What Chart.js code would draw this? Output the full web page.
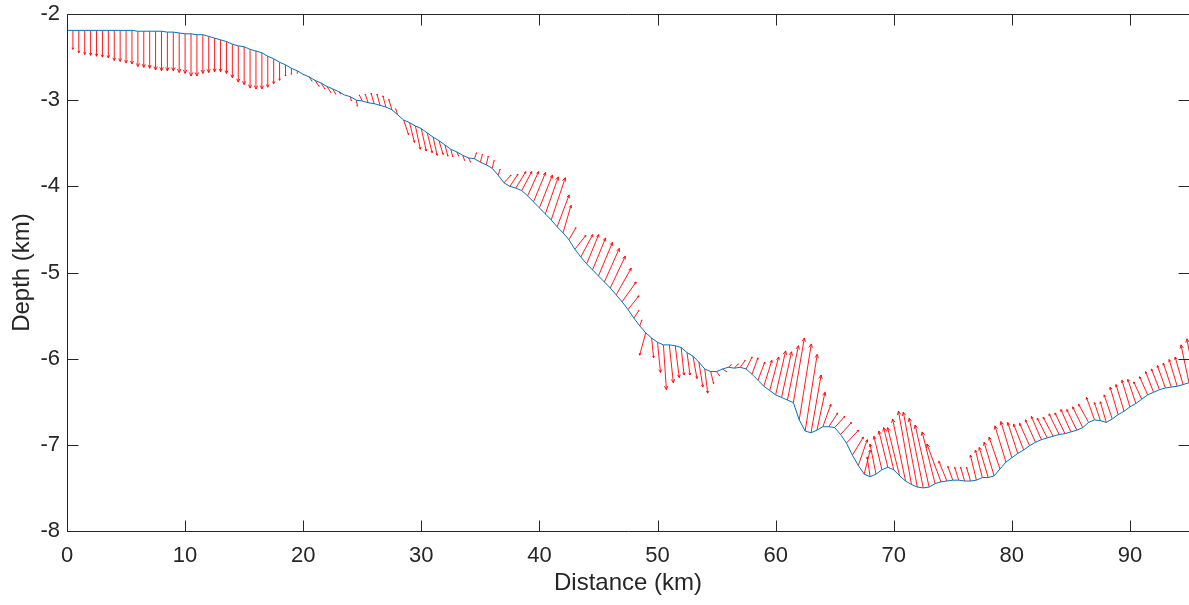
<!DOCTYPE html>
<html>
<head>
<meta charset="utf-8">
<title>Depth profile</title>
<script src="https://cdn.jsdelivr.net/npm/chart.js@4.4.0/dist/chart.umd.min.js"></script>
<style>
  html, body { margin: 0; padding: 0; background: #fff; }
  #profileChart { display: block; }
</style>
</head>
<body>
<canvas id="profileChart" width="1189" height="605"></canvas>
<script>
// sample positions along the profile (km)
const distance = [
  0, 0.5, 1, 1.5, 2, 2.5, 3, 3.5, 4, 4.5,
  5, 5.5, 6, 6.5, 7, 7.5, 8, 8.5, 9, 9.5,
  10, 10.5, 11, 11.5, 12, 12.5, 13, 13.5, 14, 14.5,
  15, 15.5, 16, 16.5, 17, 17.5, 18, 18.5, 19, 19.5,
  20, 20.5, 21, 21.5, 22, 22.5, 23, 23.5, 24, 24.5,
  25, 25.5, 26, 26.5, 27, 27.5, 28, 28.5, 29, 29.5,
  30, 30.5, 31, 31.5, 32, 32.5, 33, 33.5, 34, 34.5,
  35, 35.5, 36, 36.5, 37, 37.5, 38, 38.5, 39, 39.5,
  40, 40.5, 41, 41.5, 42, 42.5, 43, 43.5, 44, 44.5,
  45, 45.5, 46, 46.5, 47, 47.5, 48, 48.5, 49, 49.5,
  50, 50.5, 51, 51.5, 52, 52.5, 53, 53.5, 54, 54.5,
  55, 55.5, 56, 56.5, 57, 57.5, 58, 58.5, 59, 59.5,
  60, 60.5, 61, 61.5, 62, 62.5, 63, 63.5, 64, 64.5,
  65, 65.5, 66, 66.5, 67, 67.5, 68, 68.5, 69, 69.5,
  70, 70.5, 71, 71.5, 72, 72.5, 73, 73.5, 74, 74.5,
  75, 75.5, 76, 76.5, 77, 77.5, 78, 78.5, 79, 79.5,
  80, 80.5, 81, 81.5, 82, 82.5, 83, 83.5, 84, 84.5,
  85, 85.5, 86, 86.5, 87, 87.5, 88, 88.5, 89, 89.5,
  90, 90.5, 91, 91.5, 92, 92.5, 93, 93.5, 94, 94.5,
  95, 95.5
];

// seafloor depth (km)
const depth = [
  -2.19, -2.19, -2.19, -2.19, -2.19, -2.19, -2.19, -2.19, -2.19, -2.19,
  -2.19, -2.19, -2.20, -2.20, -2.20, -2.20, -2.20, -2.21, -2.21, -2.22,
  -2.23, -2.23, -2.24, -2.24, -2.26, -2.28, -2.30, -2.32, -2.35, -2.37,
  -2.38, -2.41, -2.43, -2.45, -2.49, -2.52, -2.56, -2.59, -2.63, -2.66,
  -2.70, -2.73, -2.77, -2.80, -2.84, -2.87, -2.90, -2.94, -2.96, -3.00,
  -3.01, -3.03, -3.04, -3.06, -3.08, -3.11, -3.17, -3.23, -3.26, -3.30,
  -3.33, -3.38, -3.43, -3.47, -3.52, -3.57, -3.60, -3.64, -3.67, -3.68,
  -3.72, -3.75, -3.79, -3.87, -3.96, -4.00, -4.02, -4.05, -4.11, -4.18,
  -4.25, -4.32, -4.39, -4.47, -4.54, -4.62, -4.73, -4.82, -4.90, -4.97,
  -5.04, -5.11, -5.18, -5.26, -5.34, -5.43, -5.53, -5.62, -5.70, -5.76,
  -5.81, -5.84, -5.84, -5.85, -5.87, -5.93, -5.97, -6.04, -6.12, -6.15,
  -6.15, -6.12, -6.10, -6.11, -6.10, -6.12, -6.18, -6.25, -6.32, -6.37,
  -6.42, -6.45, -6.48, -6.51, -6.71, -6.84, -6.86, -6.83, -6.79, -6.79,
  -6.80, -6.88, -6.98, -7.12, -7.24, -7.34, -7.37, -7.34, -7.29, -7.26,
  -7.29, -7.36, -7.42, -7.46, -7.49, -7.50, -7.49, -7.45, -7.43, -7.42,
  -7.41, -7.41, -7.42, -7.42, -7.41, -7.38, -7.38, -7.36, -7.28, -7.20,
  -7.15, -7.10, -7.06, -7.01, -6.97, -6.94, -6.92, -6.90, -6.88, -6.87,
  -6.85, -6.83, -6.80, -6.74, -6.71, -6.72, -6.74, -6.70, -6.65, -6.61,
  -6.56, -6.52, -6.47, -6.42, -6.39, -6.36, -6.34, -6.33, -6.32, -6.30,
  -6.28, -6.26
];

// arrow components: horizontal (km) and vertical (km)
const arrowU = [
  0, 0, 0, 0, 0, 0, 0, 0, 0, 0,
  0, 0, 0, 0, 0, 0, 0, 0, 0, 0,
  0, 0, 0, 0, 0, 0, 0, 0, 0, 0,
  0, 0, 0, 0, 0, 0, 0, 0, 0, 0,
  0, 0.25, 0.34, 0.34, 0.34, 0.25, 0.17, 0, 0.08, 0.08,
  -0.25, -0.25, -0.25, -0.25, -0.25, -0.25, -0.17, 0.42, 0.42, 0.42,
  0.42, 0.42, 0.34, 0.34, 0.25, 0.17, 0.17, 0.17, 0.17, 0.17,
  0.17, 0.17, 0.17, 0.17, 0.59, 0.68, 0.85, 0.85, 0.93, 1.02,
  1.10, 1.10, 1.19, 1.02, 0.68, 0.59, 0.93, 1.02, 1.02, 1.10,
  1.19, 1.27, 1.27, 1.27, 1.19, 0.93, 0.42, 0.17, -0.51, 0.17,
  0.25, 0.25, 0.34, 0.34, 0.25, 0.25, 0.34, 0.34, 0.25, 0.25,
  0.25, 0.34, 0.25, 0.34, 0.42, 0.51, 0.51, 0.59, 0.68, 0.76,
  0.85, 0.85, 0.93, 0.93, 1.02, 1.02, 0.85, 0.68, 0.68, 0.76,
  0.85, 0.93, 1.02, 0.93, 0.76, 0.51, -0.25, -0.51, -0.68, -0.76,
  -0.85, -1.02, -1.10, -1.10, -1.19, -1.19, -1.19, -1.10, -1.19, -0.68,
  -0.42, -0.34, -0.34, -0.34, -0.51, -0.59, -0.76, -0.85, -0.93, -0.93,
  -0.93, -0.85, -0.85, -0.85, -0.85, -0.85, -0.85, -0.85, -0.85, -0.85,
  -0.85, -0.85, -0.85, -0.85, -0.68, -0.51, -0.51, -0.68, -0.68, -0.68,
  -0.68, -0.68, -0.68, -0.68, -0.68, -0.68, -0.68, -0.68, -0.68, -0.68,
  -0.68, -0.68
];
const arrowV = [
  -0.17, -0.22, -0.26, -0.28, -0.29, -0.30, -0.31, -0.32, -0.35, -0.36,
  -0.38, -0.39, -0.41, -0.42, -0.43, -0.45, -0.46, -0.45, -0.45, -0.46,
  -0.46, -0.49, -0.48, -0.45, -0.42, -0.39, -0.37, -0.37, -0.39, -0.42,
  -0.44, -0.45, -0.44, -0.42, -0.36, -0.29, -0.21, -0.13, -0.07, -0.03,
  -0.01, -0.05, -0.07, -0.07, -0.07, -0.06, -0.03, 0, -0.05, -0.07,
  0.07, 0.10, 0.12, 0.13, 0.13, 0.12, 0.07, -0.17, -0.23, -0.27,
  -0.26, -0.23, -0.21, -0.16, -0.13, -0.09, -0.05, -0.06, -0.05, 0.07,
  0.09, 0.10, 0.09, 0.07, 0.09, 0.14, 0.19, 0.22, 0.28, 0.34,
  0.38, 0.43, 0.49, 0.37, 0.32, 0.14, 0.16, 0.26, 0.34, 0.37,
  0.39, 0.39, 0.37, 0.31, 0.23, 0.16, 0.09, 0.07, -0.26, -0.23,
  -0.35, -0.52, -0.44, -0.37, -0.32, -0.26, -0.26, -0.29, -0.28, -0.14,
  -0.05, -0.03, 0.03, 0.05, 0.08, 0.14, 0.19, 0.21, 0.30, 0.39,
  0.51, 0.53, 0.63, 0.75, 0.88, 0.89, 0.67, 0.44, 0.26, 0.16,
  0.13, 0.14, 0.15, 0.21, 0.30, 0.28, 0.23, 0.35, 0.39, 0.42,
  0.49, 0.56, 0.72, 0.85, 0.87, 0.81, 0.72, 0.60, 0.44, 0.23,
  0.16, 0.15, 0.16, 0.16, 0.29, 0.32, 0.35, 0.39, 0.37, 0.42,
  0.42, 0.36, 0.30, 0.26, 0.26, 0.27, 0.23, 0.22, 0.24, 0.24,
  0.26, 0.24, 0.24, 0.21, 0.26, 0.21, 0.24, 0.28, 0.32, 0.31,
  0.31, 0.28, 0.20, 0.21, 0.24, 0.24, 0.26, 0.28, 0.31, 0.32,
  0.44, 0.49
];

const xTicks = [0, 10, 20, 30, 40, 50, 60, 70, 80, 90];
const yTicks = [-8, -7, -6, -5, -4, -3, -2];

const axisColor = '#262626';
const fontFamily = '"Liberation Sans", Arial, Helvetica, sans-serif';

// red quiver arrows, drawn under the profile line
const quiverPlugin = {
  id: 'quiver',
  beforeDatasetsDraw(chart) {
    const { ctx, chartArea: a, scales: { x, y } } = chart;
    ctx.save();
    ctx.beginPath();
    ctx.rect(a.left, a.top, a.right - a.left, a.bottom - a.top);
    ctx.clip();
    ctx.strokeStyle = '#ff0000';
    ctx.lineWidth = 0.9;
    ctx.beginPath();
    distance.forEach((d, i) => {
      if (arrowU[i] === 0 && arrowV[i] === 0) return;
      const x0 = x.getPixelForValue(d);
      const y0 = y.getPixelForValue(depth[i]);
      const x1 = x.getPixelForValue(d + arrowU[i]);
      const y1 = y.getPixelForValue(depth[i] + arrowV[i]);
      ctx.moveTo(x0, y0);
      ctx.lineTo(x1, y1);
      const ang = Math.atan2(y1 - y0, x1 - x0);
      const h = Math.min(4, Math.hypot(x1 - x0, y1 - y0) * 0.1);
      ctx.moveTo(x1 - h * Math.cos(ang - 0.45), y1 - h * Math.sin(ang - 0.45));
      ctx.lineTo(x1, y1);
      ctx.lineTo(x1 - h * Math.cos(ang + 0.45), y1 - h * Math.sin(ang + 0.45));
    });
    ctx.stroke();
    ctx.restore();
  }
};

// MATLAB-style box with inward ticks
const framePlugin = {
  id: 'frame',
  afterDraw(chart) {
    const { ctx, chartArea: a, scales: { x, y } } = chart;
    const L = a.left + 0.5, R = a.right + 0.5, T = a.top + 0.5, B = a.bottom + 0.5;
    ctx.save();
    ctx.strokeStyle = axisColor;
    ctx.lineWidth = 1;
    ctx.beginPath();
    ctx.rect(L, T, R - L, B - T);
    xTicks.forEach(v => {
      const px = Math.round(x.getPixelForValue(v)) + 0.5;
      ctx.moveTo(px, B); ctx.lineTo(px, B - 11);
      ctx.moveTo(px, T); ctx.lineTo(px, T + 11);
    });
    yTicks.forEach(v => {
      const py = Math.round(y.getPixelForValue(v)) + 0.5;
      ctx.moveTo(L, py); ctx.lineTo(L + 11, py);
      ctx.moveTo(R, py); ctx.lineTo(R - 11, py);
    });
    ctx.stroke();
    ctx.restore();
  }
};

new Chart(document.getElementById('profileChart'), {
  type: 'line',
  data: {
    datasets: [{
      label: 'Seafloor',
      data: distance.map((d, i) => ({ x: d, y: depth[i] })),
      borderColor: '#0072BD',
      borderWidth: 1,
      pointRadius: 0,
      tension: 0,
      fill: false
    }]
  },
  options: {
    responsive: false,
    animation: false,
    layout: { padding: { top: 14, right: 0, left: 0, bottom: 0 } },
    plugins: {
      legend: { display: false },
      tooltip: { enabled: false }
    },
    scales: {
      x: {
        type: 'linear',
        min: 0,
        max: 95,
        afterBuildTicks: s => { s.ticks = xTicks.map(v => ({ value: v })); },
        afterFit: s => { s.height = 74; s.paddingLeft = 0; s.paddingRight = 0; },
        grid: { display: false, drawTicks: false },
        border: { display: false },
        ticks: {
          color: axisColor,
          padding: 12,
          maxRotation: 0,
          font: { family: fontFamily, size: 22 }
        },
        title: {
          display: true,
          text: 'Distance (km)',
          color: axisColor,
          font: { family: fontFamily, size: 24, lineHeight: 1.2 },
          padding: { top: 0, bottom: 7 }
        }
      },
      y: {
        type: 'linear',
        min: -8,
        max: -2,
        afterBuildTicks: s => { s.ticks = yTicks.map(v => ({ value: v })); },
        afterFit: s => { s.width = 67; s.paddingTop = 0; s.paddingBottom = 0; },
        grid: { display: false, drawTicks: false },
        border: { display: false },
        ticks: {
          color: axisColor,
          padding: 7,
          font: { family: fontFamily, size: 22 }
        },
        title: {
          display: true,
          text: 'Depth (km)',
          color: axisColor,
          font: { family: fontFamily, size: 24, lineHeight: 1.2 },
          padding: { top: 8, bottom: 0 }
        }
      }
    }
  },
  plugins: [quiverPlugin, framePlugin]
});
</script>
</body>
</html>
